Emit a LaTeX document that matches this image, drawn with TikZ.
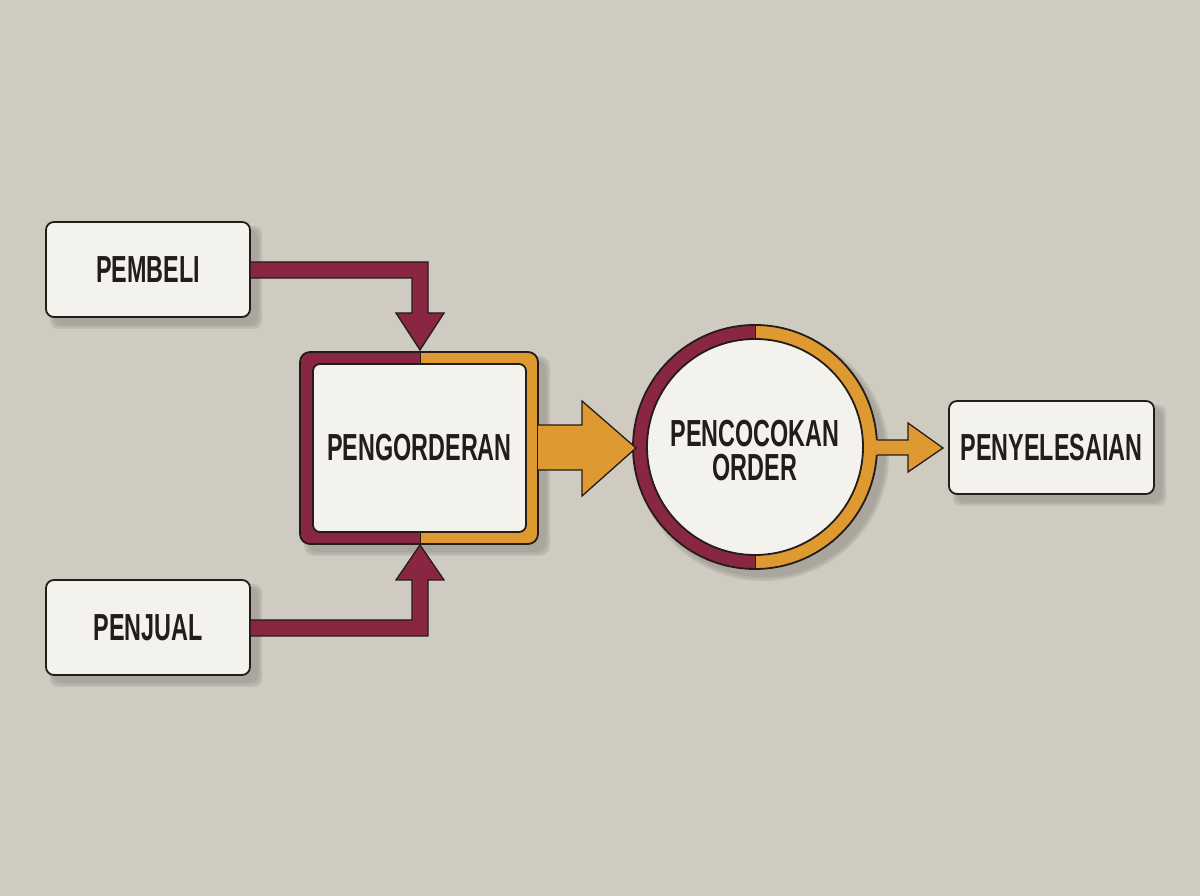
\documentclass[tikz,border=0pt]{standalone}
\usepackage{fontspec}
\newfontfamily\labfont{Liberation Sans}[FakeStretch=0.62]
\usetikzlibrary{calc}
\definecolor{bg}{RGB}{207,203,192}
\definecolor{boxfill}{RGB}{244,242,236}
\definecolor{ink}{RGB}{36,28,26}
\definecolor{crim}{RGB}{137,39,66}
\definecolor{ora}{RGB}{222,154,48}
\definecolor{shad}{RGB}{150,146,138}
\tikzset{
  labeltext/.style={font=\labfont\bfseries\fontsize{37.7}{34}\selectfont, text=ink, align=center},
  plainbox/.style={draw=ink, line width=1.8pt, fill=boxfill, rounded corners=8pt,
    minimum width=204pt, minimum height=95pt, inner sep=0pt, labeltext},
  arrowshape/.style={draw=ink, line width=1.3pt, line join=miter},
  softshadow/.style={fill=shad, opacity=0.28, draw=none},
}
\newcommand{\myshadow}[5]{% x1 y1 x2 y2 radius
  \foreach \s in {0,2,4}{
    \fill[softshadow, rounded corners=#5] ({#1+8-\s},{#2-8-\s}) rectangle ({#3+8+\s},{#4-8+\s});
  }
}
\begin{document}
\begin{tikzpicture}[x=1pt,y=1pt]
\fill[bg] (0,0) rectangle (1200,896);
\useasboundingbox (0,0) rectangle (1200,896);

% shadows
\myshadow{46}{579}{250}{674}{8pt}
\myshadow{46}{221}{250}{316}{8pt}
\myshadow{300}{352}{538}{544}{10pt}
\myshadow{949}{402}{1154}{495}{8pt}
\foreach \s in {0,2,4}{
  \fill[softshadow] (763,441) circle ({122+\s});
}

% boxes
\node[plainbox] (pembeli) at (148,626.5) {PEMBELI};
\node[plainbox] (penjual) at (148,268.5) {PENJUAL};
\node[plainbox, minimum width=205pt, minimum height=93pt] (selesai) at (1051.5,448.5) {PENYELESAIAN};

% PENGORDERAN frame
\coordinate (fSW) at (300,352);
\coordinate (fNE) at (538,544);
\begin{scope}
  \clip[rounded corners=10pt] (fSW) rectangle (fNE);
  \fill[crim] (300,352) rectangle (420,544);
  \fill[ora] (420,352) rectangle (538,544);
  \draw[ink, line width=0.8pt] (420,352) -- (420,544);
\end{scope}
\draw[ink, line width=1.8pt, rounded corners=10pt] (fSW) rectangle (fNE);
\node[draw=ink, line width=1.8pt, fill=boxfill, rounded corners=7pt,
  minimum width=213pt, minimum height=168pt, inner sep=0pt, labeltext] (order) at (419.5,448) {PENGORDERAN};

% Circle
\coordinate (cc) at (755,449);
\fill[crim] (755,571) arc[start angle=90, end angle=270, radius=122] -- cycle;
\fill[ora] (755,327) arc[start angle=-90, end angle=90, radius=122] -- cycle;
\draw[ink, line width=0.8pt] (755,327) -- (755,571);
\draw[ink, line width=1.8pt] (cc) circle (122);
\node[circle, draw=ink, line width=1.8pt, fill=boxfill, minimum size=216pt, inner sep=0pt] (match) at (cc) {};
\node[labeltext, inner sep=0pt] (matchtext) at ([yshift=-4pt]match.center) {PENCOCOKAN\\ORDER};

% Arrow PEMBELI -> PENGORDERAN
\fill[crim] (pembeli.east |- 0,634) -- (428,634) -- (428,583) -- (444,583) -- (420,546) -- (396,583) -- (412,583) -- (412,618) -- (pembeli.east |- 0,618) -- cycle;
\draw[arrowshape] (pembeli.east |- 0,634) -- (428,634) -- (428,583) -- (444,583) -- (420,546) -- (396,583) -- (412,583) -- (412,618) -- (pembeli.east |- 0,618);

% Arrow PENJUAL -> PENGORDERAN
\fill[crim] (penjual.east |- 0,260) -- (428,260) -- (428,316) -- (444,316) -- (420,351) -- (396,316) -- (412,316) -- (412,276) -- (penjual.east |- 0,276) -- cycle;
\draw[arrowshape] (penjual.east |- 0,260) -- (428,260) -- (428,316) -- (444,316) -- (420,351) -- (396,316) -- (412,316) -- (412,276) -- (penjual.east |- 0,276);

% Big arrow PENGORDERAN -> match
\coordinate (bigtip) at (636,448);
\fill[ora] (fNE |- 0,471) -- (582,471) -- (582,495) -- (bigtip) -- (582,400) -- (582,426) -- (fNE |- 0,426) -- cycle;
\draw[arrowshape] (537,471) -- (582,471) -- (582,495) -- (bigtip) -- (582,400) -- (582,426) -- (537,426);

% Small arrow match -> PENYELESAIAN
\coordinate (smtip) at (943,448);
\fill[ora] (876,456) -- (908,456) -- (908,473) -- (smtip) -- (908,424) -- (908,441) -- (876,441) -- cycle;
\draw[arrowshape] (877,456) -- (908,456) -- (908,473) -- (smtip) -- (908,424) -- (908,441) -- (877,441);
\end{tikzpicture}
\end{document}
